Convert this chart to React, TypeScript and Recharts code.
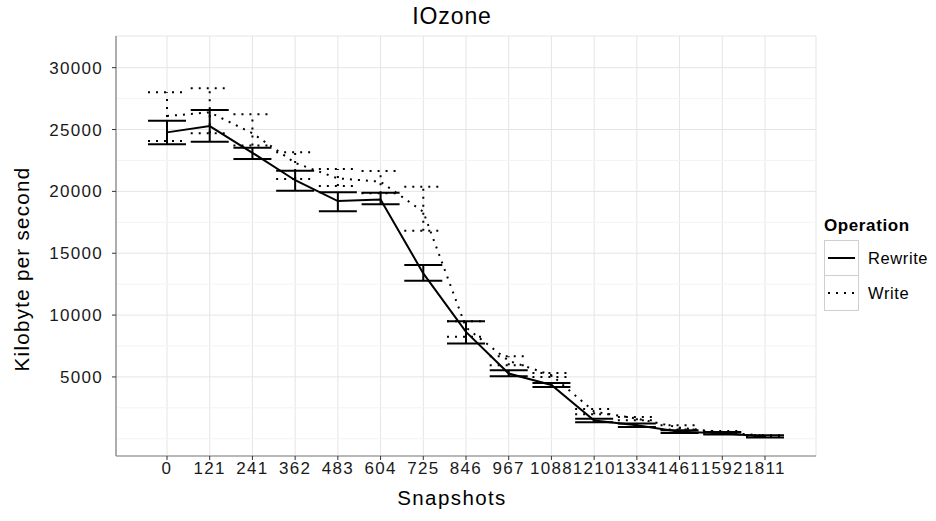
import React from 'react';
import {
  LineChart,
  Line,
  XAxis,
  YAxis,
  CartesianGrid,
  ErrorBar,
  ReferenceLine,
} from 'recharts';

// IOzone throughput per snapshot count
const snapshots = ['0', '121', '241', '362', '483', '604', '725', '846', '967', '1088', '1210', '1334', '1461', '1592', '1811'];

const rewriteMean = [24770, 25280, 23120, 20900, 19220, 19350, 13370, 8640, 5280, 4350, 1480, 1090, 580, 450, 190];
const rewriteLow = [23800, 24010, 22610, 20050, 18400, 18950, 12770, 7700, 5060, 4190, 1330, 960, 470, 340, 110];
const rewriteHigh = [25710, 26580, 23530, 21670, 19920, 19890, 14040, 9510, 5540, 4510, 1620, 1230, 690, 550, 280];

const writeMean = [26090, 26390, 24700, 22300, 21050, 20780, 18350, 9000, 6300, 5150, 2200, 1630, 900, 520, 250];
const writeLow = [24070, 24690, 23700, 21000, 20430, 19840, 16810, 8240, 5950, 5000, 1980, 1500, 750, 420, 200];
const writeHigh = [28010, 28330, 26230, 23160, 21800, 21640, 20370, 9510, 6680, 5320, 2400, 1770, 1090, 630, 290];

const yTicks = [5000, 10000, 15000, 20000, 25000, 30000];
const yMinor = [0, 2500, 7500, 12500, 17500, 22500, 27500];
const yDomain = [-1390, 32560];

const data = snapshots.map((s, i) => ({
  snapshot: s,
  rewrite: rewriteMean[i],
  rewriteErr: [rewriteMean[i] - rewriteLow[i], rewriteHigh[i] - rewriteMean[i]],
  write: writeMean[i],
  writeErr: [writeMean[i] - writeLow[i], writeHigh[i] - writeMean[i]],
}));

const FONT = '"Liberation Sans", Arial, Helvetica, sans-serif';
const DOTS = '2 6';
const BORDER = '#7f7f7f';

function YTitle(props: any) {
  const vb = props.viewBox || { x: 0, y: 0, width: 0, height: 0 };
  const cx = vb.x + 21;
  const cy = vb.y + vb.height / 2 + 23;
  return (
    <text
      x={cx}
      y={cy}
      transform={`rotate(-90 ${cx} ${cy})`}
      textAnchor="middle"
      dominantBaseline="central"
      fontFamily={FONT}
      fontSize={20.5}
      letterSpacing={1.3}
      fill="#000"
    >
      Kilobyte per second
    </text>
  );
}

function XTitle(props: any) {
  const vb = props.viewBox || { x: 0, y: 0, width: 0, height: 0 };
  const cx = vb.x + vb.width / 2 - 14;
  const cy = vb.y + 41;
  return (
    <text
      x={cx}
      y={cy}
      textAnchor="middle"
      dominantBaseline="central"
      fontFamily={FONT}
      fontSize={20.5}
      letterSpacing={1.4}
      fill="#000"
    >
      Snapshots
    </text>
  );
}

function KeyBox({ dashed, first }: { dashed: boolean; first: boolean }) {
  return (
    <div
      style={{
        width: 33,
        height: 34,
        border: '1px solid #cfcfcf',
        borderTop: first ? '1px solid #cfcfcf' : 'none',
        background: '#fff',
      }}
    >
      <svg width={33} height={34}>
        <line
          x1={3}
          x2={30}
          y1={17}
          y2={17}
          stroke="#000"
          strokeWidth={2}
          strokeDasharray={dashed ? DOTS : undefined}
        />
      </svg>
    </div>
  );
}

function OperationLegend() {
  const items = [
    { name: 'Rewrite', dashed: false },
    { name: 'Write', dashed: true },
  ];
  return (
    <div style={{ position: 'absolute', left: 824, top: 216, fontFamily: FONT, color: '#000' }}>
      <div style={{ fontWeight: 'bold', fontSize: 17, marginBottom: 4, letterSpacing: 0.6 }}>Operation</div>
      {items.map((it, i) => (
        <div key={it.name} style={{ display: 'flex', alignItems: 'center' }}>
          <KeyBox dashed={it.dashed} first={i === 0} />
          <span style={{ fontSize: 16.5, marginLeft: 9, letterSpacing: 0.6 }}>{it.name}</span>
        </div>
      ))}
    </div>
  );
}

export default function App() {
  const tickStyle = { fontSize: 17, fill: '#1a1a1a', fontFamily: FONT, letterSpacing: 1.3 };
  return (
    <div style={{ position: 'absolute', left: 0, top: 0, width: 936, height: 521, background: '#fff' }}>
      <div
        style={{
          position: 'absolute',
          left: 102,
          width: 700,
          top: 3,
          textAlign: 'center',
          fontFamily: FONT,
          fontSize: 23,
          color: '#000',
          letterSpacing: 0.9,
        }}
      >
        IOzone
      </div>
      <LineChart
        width={936}
        height={521}
        data={data}
        margin={{ top: 36, right: 120, left: 0, bottom: 0 }}
      >
        <CartesianGrid stroke="#e5e5e5" strokeWidth={1} />
        {yMinor.map(v => (
          <ReferenceLine key={v} y={v} stroke="#f3f3f3" strokeWidth={1} />
        ))}
        <XAxis
          dataKey="snapshot"
          padding={{ left: 51, right: 51 }}
          height={65}
          tick={tickStyle}
          tickLine={{ stroke: '#333' }}
          tickSize={4}
          tickMargin={2}
          axisLine={{ stroke: BORDER, strokeWidth: 1.2 }}
          interval={0}
          label={<XTitle />}
        />
        <XAxis
          xAxisId="top"
          orientation="top"
          dataKey="snapshot"
          height={0}
          tick={false}
          tickLine={false}
          axisLine={{ stroke: BORDER, strokeWidth: 1.2 }}
        />
        <YAxis
          type="number"
          domain={yDomain}
          ticks={yTicks}
          width={116}
          allowDataOverflow
          tick={tickStyle}
          tickLine={{ stroke: '#333' }}
          tickSize={4}
          tickMargin={9}
          axisLine={{ stroke: BORDER, strokeWidth: 1.2 }}
          label={<YTitle />}
        />
        <YAxis
          yAxisId="right"
          orientation="right"
          type="number"
          domain={yDomain}
          width={0}
          tick={false}
          tickLine={false}
          axisLine={{ stroke: BORDER, strokeWidth: 1.2 }}
        />
        <Line
          dataKey="write"
          stroke="#000"
          strokeWidth={2}
          strokeDasharray={DOTS}
          dot={false}
          activeDot={false}
          isAnimationActive={false}
        >
          <ErrorBar dataKey="writeErr" width={19} stroke="#000" strokeWidth={2} strokeDasharray={DOTS} />
        </Line>
        <Line
          dataKey="rewrite"
          stroke="#000"
          strokeWidth={2}
          dot={false}
          activeDot={false}
          isAnimationActive={false}
        >
          <ErrorBar dataKey="rewriteErr" width={19} stroke="#000" strokeWidth={2} />
        </Line>
      </LineChart>
      <OperationLegend />
    </div>
  );
}
